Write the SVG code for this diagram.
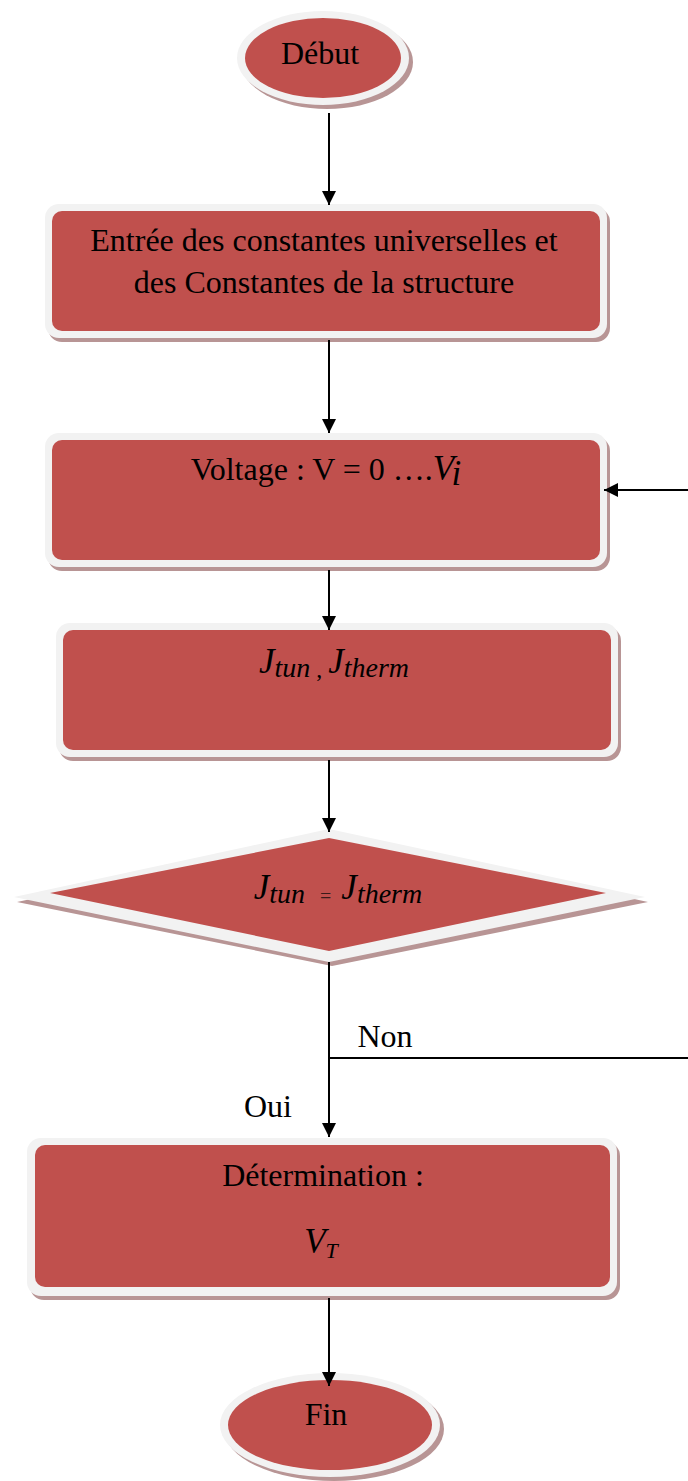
<svg xmlns="http://www.w3.org/2000/svg" width="688" height="1481" viewBox="0 0 688 1481">
<style>
.sh{fill:#b89595}
.bd{fill:#f2f2f2}
.rd{fill:#c0504d}
.t{font-family:"Liberation Serif","Times New Roman",serif;font-size:32px;fill:#000;text-anchor:middle}
.m{font-family:"Liberation Serif","Times New Roman",serif;font-style:italic;font-size:35px;fill:#000}
.ln{stroke:#000;stroke-width:2;fill:none}
</style>
<defs>
<marker id="ah" viewBox="0 0 14 14" refX="14" refY="7" markerWidth="7" markerHeight="7" markerUnits="strokeWidth" orient="auto">
<path d="M0,0 L14,7 L0,14 z" fill="#000"/>
</marker>
</defs>
<rect width="688" height="1481" fill="#fff"/>

<g id="debut">
<ellipse class="sh" cx="327" cy="62" rx="86" ry="47"/>
<ellipse class="bd" cx="323" cy="58" rx="86" ry="47"/>
<ellipse class="rd" cx="323" cy="58" rx="78" ry="40"/>
<text class="t" x="320" y="64">Début</text>
</g>

<g id="entree">
<rect class="sh" x="48" y="208" width="562" height="134" rx="14"/>
<rect class="bd" x="45" y="204" width="562" height="134" rx="14"/>
<rect class="rd" x="52" y="211" width="548" height="120" rx="10"/>
<text class="t" x="324" y="251">Entrée des constantes universelles et</text>
<text class="t" x="324" y="293">des Constantes de la structure</text>
</g>

<g id="voltage">
<rect class="sh" x="48" y="437" width="562" height="134" rx="14"/>
<rect class="bd" x="45" y="433" width="562" height="134" rx="14"/>
<rect class="rd" x="52" y="440" width="548" height="120" rx="10"/>
<text class="t" x="326" y="480">Voltage : V = 0 ….<tspan class="m" font-size="32">V</tspan><tspan class="m" font-size="23" dy="5">i</tspan></text>
</g>

<g id="jcalc">
<rect class="sh" x="59" y="627" width="562" height="134" rx="14"/>
<rect class="bd" x="56" y="623" width="562" height="134" rx="14"/>
<rect class="rd" x="63" y="630" width="548" height="120" rx="10"/>
<text class="m" x="334" y="673" text-anchor="middle">J<tspan font-size="28" dy="4">tun</tspan><tspan font-size="24" font-style="normal"> , </tspan><tspan dy="-4">J</tspan><tspan font-size="28" dy="4">therm</tspan></text>
</g>

<g id="test">
<polygon class="sh" points="332,834 648,902 332,966 17,902"/>
<polygon class="bd" points="329,829 645,897 329,962 14,897"/>
<polygon class="rd" points="329,838 606,893 329,951 50,893"/>
<text class="m" x="338" y="899" text-anchor="middle">J<tspan font-size="28" dy="4">tun</tspan><tspan font-size="20" font-style="normal" fill="#3a1a1a" xml:space="preserve">   =  </tspan><tspan dy="-4">J</tspan><tspan font-size="28" dy="4">therm</tspan></text>
</g>

<g id="determination">
<rect class="sh" x="30" y="1142" width="590" height="158" rx="14"/>
<rect class="bd" x="27" y="1138" width="590" height="158" rx="14"/>
<rect class="rd" x="35" y="1145" width="575" height="142" rx="10"/>
<text class="t" x="323" y="1186">Détermination :</text>
<text class="m" x="321" y="1253" text-anchor="middle" font-size="30">V<tspan font-size="22" dy="5">T</tspan></text>
</g>

<g id="fin">
<ellipse class="sh" cx="334" cy="1429" rx="110" ry="52"/>
<ellipse class="bd" cx="330" cy="1425" rx="110" ry="52"/>
<ellipse class="rd" cx="330" cy="1425" rx="102" ry="45"/>
<text class="t" x="326" y="1425">Fin</text>
</g>

<g id="connectors">
<line class="ln" x1="329" y1="113" x2="329" y2="205" marker-end="url(#ah)"/>
<line class="ln" x1="329" y1="340" x2="329" y2="433" marker-end="url(#ah)"/>
<line class="ln" x1="329" y1="570" x2="329" y2="630" marker-end="url(#ah)"/>
<line class="ln" x1="329" y1="760" x2="329" y2="832" marker-end="url(#ah)"/>
<line class="ln" x1="329" y1="962" x2="329" y2="1137" marker-end="url(#ah)"/>
<line class="ln" x1="329" y1="1058" x2="688" y2="1058"/>
<line class="ln" x1="688" y1="490" x2="604" y2="490" marker-end="url(#ah)"/>
<line class="ln" x1="329" y1="1298" x2="329" y2="1386" marker-end="url(#ah)"/>
<text class="t" x="385" y="1047">Non</text>
<text class="t" x="268" y="1117">Oui</text>
</g>
</svg>
